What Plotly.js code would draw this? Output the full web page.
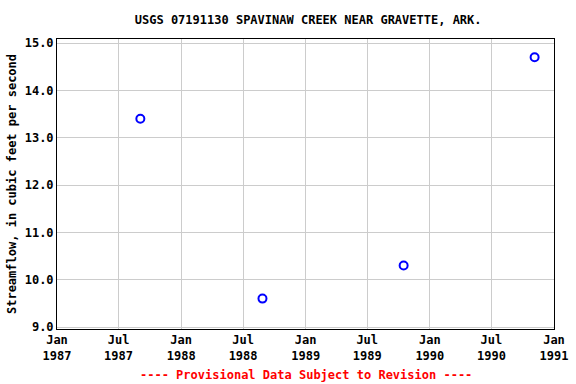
<!DOCTYPE html>
<html>
<head>
<meta charset="utf-8">
<script src="https://cdn.plot.ly/plotly-3.0.1.min.js"></script>
<style>html,body{margin:0;padding:0;background:#fff;}#chart{width:576px;height:384px;}</style>
</head>
<body>
<div id="chart"></div>
<script>
const dates = ["1987-09-03", "1988-08-27", "1989-10-16", "1990-11-05"];
const flows = [13.4, 9.6, 10.3, 14.7];
const yTickVals = [9, 10, 11, 12, 13, 14, 15];
const chartTitle = "USGS 07191130 SPAVINAW CREEK NEAR GRAVETTE, ARK.";
const yTitle = "Streamflow, in cubic feet per second";
const footer = "---- Provisional Data Subject to Revision ----";

const mono = "'DejaVu Sans Mono', 'Liberation Mono', monospace";

Plotly.newPlot("chart", [{
  x: dates,
  y: flows,
  type: "scatter",
  mode: "markers",
  marker: {symbol: "circle-open", size: 8, color: "#0000ff", line: {width: 2, color: "#0000ff"}},
  hoverinfo: "x+y"
}], {
  width: 576, height: 384,
  margin: {l: 57, r: 22, t: 39, b: 55},
  paper_bgcolor: "#ffffff",
  plot_bgcolor: "#ffffff",
  showlegend: false,
  title: {text: "<b>" + chartTitle + "</b>", font: {family: mono, size: 12, color: "#000"}, x: 0.535, xanchor: "center", y: 0.948, yanchor: "middle"},
  xaxis: {
    type: "date",
    range: ["1987-01-01", "1991-01-01"],
    dtick: "M6",
    tick0: "1987-01-01",
    tickformat: "<b>%b</b><br><b>%Y</b>",
    tickfont: {family: mono, size: 12, color: "#000"},
    showgrid: true, gridcolor: "#cccccc", gridwidth: 1,
    showline: true, linecolor: "#000", linewidth: 1, mirror: true,
    ticks: "", zeroline: false
  },
  yaxis: {
    range: [8.958, 15.085],
    tickvals: yTickVals,
    ticktext: yTickVals.map(v => "<b>" + v.toFixed(1) + "</b>"),
    tickfont: {family: mono, size: 12, color: "#000"},
    showgrid: true, gridcolor: "#cccccc", gridwidth: 1,
    showline: true, linecolor: "#000", linewidth: 1, mirror: true,
    ticks: "", ticklen: 0, zeroline: false,
    title: {text: "<b>" + yTitle + "</b>", font: {family: mono, size: 12, color: "#000"}, standoff: 5}
  },
  annotations: [{
    text: "<b>" + footer + "</b>",
    xref: "paper", yref: "paper", x: 0.5, y: -0.16, xanchor: "center", yanchor: "middle",
    showarrow: false,
    font: {family: mono, size: 12, color: "#ff0000"}
  }]
}, {staticPlot: true});
</script>
</body>
</html>
